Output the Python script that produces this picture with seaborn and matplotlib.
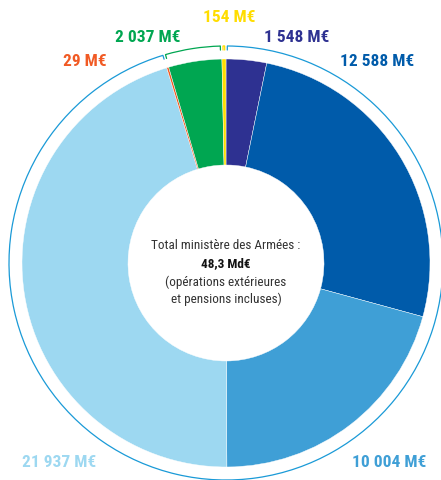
import numpy as np
import matplotlib
matplotlib.use("Agg")
import matplotlib.pyplot as plt
import seaborn as sns
from matplotlib.patches import Arc

# data (M€), clockwise from 12 o'clock
values = [1548, 12588, 10004, 21937, 29, 2037, 154]
labels = ["1 548 M€", "12 588 M€", "10 004 M€", "21 937 M€", "29 M€", "2 037 M€", "154 M€"]
colors = ["#2e3191", "#005baa", "#3f9fd6", "#9dd8f1", "#f15a24", "#00a651", "#ffdd00"]

# outer ring groups
ring_values = [46077, 2066, 154]
ring_colors = ["#1a9ad7", "#00a651", "#ffdd00"]

total_text = ["Total ministère des Armées :", "48,3 Md€",
              "(opérations extérieures", "et pensions incluses)"]

sns.set_theme(style="white")
plt.rcParams['font.family'] = ['Roboto Condensed', 'DejaVu Sans']

W, H = 441, 481
fig = plt.figure(figsize=(W / 100, H / 100), dpi=100)
ax = fig.add_axes([0, 0, 1, 1])

cx, cy = 226, H - 264
r_out, r_in, r_ring = 204, 98, 217

vals = np.array(values, dtype=float)
shown = np.maximum(vals, vals.sum() * 0.0016)  # keep the tiny slice visible
ax.pie(shown, colors=colors, startangle=90, counterclock=False,
       center=(cx, cy), radius=r_out,
       wedgeprops=dict(width=r_out - r_in, edgecolor='white', linewidth=0.3))

# outer ring brackets
rv = np.array(ring_values, dtype=float)
ang = np.concatenate([[0], np.cumsum(rv) / rv.sum() * 360])
gap = 0.35
for i, col in enumerate(ring_colors):
    a0, a1 = ang[i] + gap, ang[i + 1] - gap   # compass degrees
    t1, t2 = 90 - a1, 90 - a0
    ax.add_patch(Arc((cx, cy), 2 * r_ring, 2 * r_ring, theta1=t1, theta2=t2,
                     color=col, lw=0.9))
    for a in (a0, a1):
        th = np.deg2rad(90 - a)
        ax.plot([cx + r_ring * np.cos(th), cx + (r_ring - 4) * np.cos(th)],
                [cy + r_ring * np.sin(th), cy + (r_ring - 4) * np.sin(th)],
                color=col, lw=0.9)

# value labels
label_pos = [(297, 37), (377, 61), (389, 463), (59, 463), (85, 61), (148, 37), (229, 17)]
for lab, col, (x, y) in zip(labels, colors, label_pos):
    ax.text(x, H - y, lab, color=col, fontsize=12.5, fontweight='bold',
            ha='center', va='center')

# center text
ys = [246, 264, 282, 299]
for i, (t, y) in enumerate(zip(total_text, ys)):
    ax.text(cx, H - y, t, ha='center', va='center', fontsize=9.5,
            color='#111111' if i == 1 else '#333333',
            fontweight='bold' if i == 1 else 'normal')

ax.set_xlim(0, W)
ax.set_ylim(0, H)
ax.set_aspect('equal')
ax.axis('off')

fig.savefig("out.png", dpi=100)
